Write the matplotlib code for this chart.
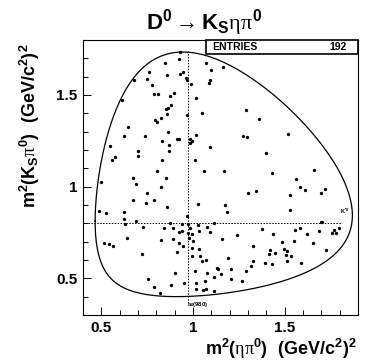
import numpy as np
import matplotlib
matplotlib.use("Agg")
import matplotlib.pyplot as plt
import matplotlib.patches as patches
from matplotlib.ticker import MultipleLocator

plt.rcParams['font.family'] = ['Liberation Sans', 'DejaVu Sans']
plt.rcParams['mathtext.fontset'] = 'custom'
plt.rcParams['mathtext.rm'] = 'Liberation Sans:bold'
plt.rcParams['mathtext.bf'] = 'Liberation Sans:bold'
plt.rcParams['mathtext.it'] = 'Liberation Sans:bold'
plt.rcParams['mathtext.sf'] = 'Liberation Serif'

# events: m2(eta pi0), m2(Ks pi0)
m2_etapi = [0.846, 0.760, 0.858, 0.751, 0.677, 0.778, 0.787, 0.809, 0.873, 0.614,
            0.878, 0.853, 0.864, 0.857, 0.791, 0.804, 0.827,
            0.929, 0.924, 0.929, 0.947, 0.962, 0.969, 0.988, 1.071, 1.097, 1.165,
            1.094, 1.086, 0.896, 1.015, 1.049, 1.289, 0.969,
            1.362,
            0.645, 0.864, 0.624, 0.737, 0.831, 0.869, 0.547, 0.700, 0.869, 0.700,
            0.576, 0.558, 0.831, 0.805, 0.673, 0.854, 0.497, 0.687, 0.827, 0.747,
            0.673, 0.787, 0.744, 0.857, 0.487,
            0.913, 0.921, 0.984, 0.993, 0.984, 1.016, 1.271, 1.296, 1.093, 1.011,
            1.062, 1.171, 1.300, 1.029, 1.175, 1.187,
            1.518, 1.400, 1.431, 1.658, 1.564, 1.344, 1.585, 1.613, 1.718, 1.698,
            1.528, 1.531,
            0.524, 0.624, 0.624, 0.631, 0.687, 0.727, 0.842, 0.876, 0.513, 0.540,
            0.562, 0.638, 0.827, 0.722, 0.755, 0.786, 0.818, 0.878,
            0.969, 0.942, 0.974, 1.029, 1.078, 1.116, 0.889, 0.984, 0.925, 0.942,
            0.974, 0.993, 1.034, 1.093, 0.889, 0.925, 0.947, 0.978, 0.998, 1.157,
            1.242, 1.326, 0.911, 0.993, 1.034, 0.993, 1.038, 1.051, 1.071, 1.193,
            1.011, 1.129, 1.138, 1.075, 1.151, 1.206, 1.289, 1.315, 1.329, 0.902,
            0.951, 1.016, 1.066, 1.116, 1.206, 1.266, 1.016, 1.056, 1.071, 1.116,
            1.376, 1.436, 1.558, 1.585, 1.622, 1.698, 1.706, 1.689, 1.768, 1.798,
            1.758, 1.782, 1.486, 1.551, 1.653, 1.422, 1.413, 1.449, 1.495, 1.513,
            1.507, 1.535, 1.726, 1.394, 1.431, 1.513, 1.591]
m2_kspi = [1.677, 1.626, 1.609, 1.586, 1.582, 1.555, 1.504, 1.508, 1.493, 1.471,
           1.444, 1.422, 1.431, 1.394, 1.362, 1.355, 1.373,
           1.732, 1.695, 1.617, 1.628, 1.595, 1.580, 1.562, 1.673, 1.637, 1.655,
           1.580, 1.568, 1.513, 1.482, 1.402, 1.420, 1.389,
           1.371,
           1.323, 1.296, 1.276, 1.278, 1.251, 1.229, 1.220, 1.196, 1.192, 1.170,
           1.160, 1.147, 1.147, 1.087, 1.046, 1.046, 1.028, 1.014, 0.996, 0.968,
           0.925, 0.928, 0.910, 0.890, 0.870,
           1.262, 1.262, 1.262, 1.251, 1.238, 1.284, 1.278, 1.270, 1.216, 1.143,
           1.087, 1.088, 0.964, 0.904, 0.899, 0.864,
           1.289, 1.183, 1.074, 1.092, 1.041, 0.974, 0.997, 0.983, 0.988, 0.968,
           0.952, 0.873,
           0.854, 0.863, 0.826, 0.795, 0.811, 0.781, 0.775, 0.803, 0.693, 0.688,
           0.679, 0.722, 0.708, 0.635, 0.498, 0.453, 0.420, 0.463,
           0.841, 0.799, 0.799, 0.793, 0.781, 0.803, 0.775, 0.775, 0.754, 0.757,
           0.750, 0.744, 0.757, 0.754, 0.713, 0.695, 0.677, 0.721, 0.702, 0.717,
           0.735, 0.677, 0.644, 0.666, 0.662, 0.622, 0.622, 0.593, 0.598, 0.611,
           0.538, 0.557, 0.549, 0.531, 0.526, 0.549, 0.540, 0.568, 0.595, 0.531,
           0.477, 0.477, 0.484, 0.508, 0.498, 0.484, 0.440, 0.438, 0.444, 0.431,
           0.768, 0.744, 0.762, 0.775, 0.744, 0.808, 0.810, 0.757, 0.766, 0.772,
           0.750, 0.750, 0.699, 0.704, 0.695, 0.657, 0.635, 0.639, 0.662, 0.648,
           0.626, 0.622, 0.653, 0.586, 0.577, 0.595, 0.586]
n_entries = 192

# resonance bands (mass squared)
m2_kstar = 0.803
m2_a0 = 0.973

# masses for the Dalitz boundary
m_D, m_Ks, m_eta, m_pi = 1.86484, 0.497611, 0.547862, 0.134977

fig = plt.figure(figsize=(3.82, 3.62), dpi=100)
ax = fig.add_axes([83/382, 47/362, 275/382, 275/362])

# kinematic boundary
t = np.linspace(0, np.pi, 400)
s_lo, s_hi = (m_eta + m_pi)**2, (m_D - m_Ks)**2
s = s_lo + (s_hi - s_lo) * (1 - np.cos(t)) / 2
rs = np.sqrt(s)
e_pi = (s - m_eta**2 + m_pi**2) / (2 * rs)
e_ks = (m_D**2 - s - m_Ks**2) / (2 * rs)
p_pi = np.sqrt(np.clip(e_pi**2 - m_pi**2, 0, None))
p_ks = np.sqrt(np.clip(e_ks**2 - m_Ks**2, 0, None))
upper = (e_pi + e_ks)**2 - (p_pi - p_ks)**2
lower = (e_pi + e_ks)**2 - (p_pi + p_ks)**2
bx = np.concatenate([s, s[::-1]])
by = np.concatenate([upper, lower[::-1]])
ax.plot(bx, by, color='black', lw=0.9)

# resonance lines
ax.plot([0.427, 1.813], [m2_kstar, m2_kstar], color='black', lw=0.7,
        linestyle=(0, (1.5, 1.5)))
ax.plot([m2_a0, m2_a0], [0.367, 1.738], color='black', lw=0.7,
        linestyle=(0, (1.5, 1.5)))
ax.text(1.802, 0.864, r'$\mathrm{K^{*0}}$', fontsize=4, ha='left', va='center')
ax.text(0.967, 0.356, r'$\mathrm{a_0(980)}$', fontsize=4.2, ha='left', va='center')

ax.plot(m2_etapi, m2_kspi, 'o', color='black', markersize=2.4, markeredgewidth=0)

ax.set_xlim(0.4, 1.9)
ax.set_ylim(0.3, 1.8)
ax.xaxis.set_minor_locator(MultipleLocator(0.1))
ax.yaxis.set_minor_locator(MultipleLocator(0.1))
ax.set_xticks([0.5, 1.0, 1.5])
ax.set_xticklabels(['0.5', '1', '1.5'])
ax.set_yticks([0.5, 1.0, 1.5])
ax.set_yticklabels(['0.5', '1', '1.5'])
ax.tick_params(which='both', direction='in', top=False, right=False,
               labelsize=11, width=0.7)
ax.tick_params(which='major', length=6, pad=4)
ax.tick_params(which='minor', length=3.5)
for lab in ax.get_xticklabels() + ax.get_yticklabels():
    lab.set_fontweight('bold')
for sp in ax.spines.values():
    sp.set_linewidth(0.8)

# stats box
box = patches.Rectangle((123/275, 261/275), 152/275, 14/275, transform=ax.transAxes,
                        facecolor='white', edgecolor='black', lw=1.2,
                        clip_on=False, zorder=5)
ax.add_patch(box)
ax.text(129/275, 268/275, 'ENTRIES', transform=ax.transAxes, fontsize=7.5,
        fontweight='bold', ha='left', va='center', zorder=6)
ax.text(264/275, 268/275, str(n_entries), transform=ax.transAxes, fontsize=7.5,
        fontweight='bold', ha='right', va='center', zorder=6)

fig.text(204/382, 1 - 29/362,
         r'$\mathrm{D^0} \rightarrow \mathrm{K_S}\mathsf{\eta\pi}^\mathrm{0}$',
         fontsize=16, ha='center', va='baseline')
fig.text(357/382, 1 - 355/362,
         r'$\mathrm{m^2(}\mathsf{\eta\pi}^\mathrm{0}\mathrm{)\ \ (GeV/c^2)^2}$',
         fontsize=13, ha='right', va='baseline')
fig.text(30/382, 1 - 43/362,
         r'$\mathrm{m^2(K_S}\mathsf{\pi}^\mathrm{0}\mathrm{)\ \ (GeV/c^2)^2}$',
         fontsize=13, ha='center', va='top', rotation=90)

fig.savefig('out.png', dpi=100, facecolor='white')
